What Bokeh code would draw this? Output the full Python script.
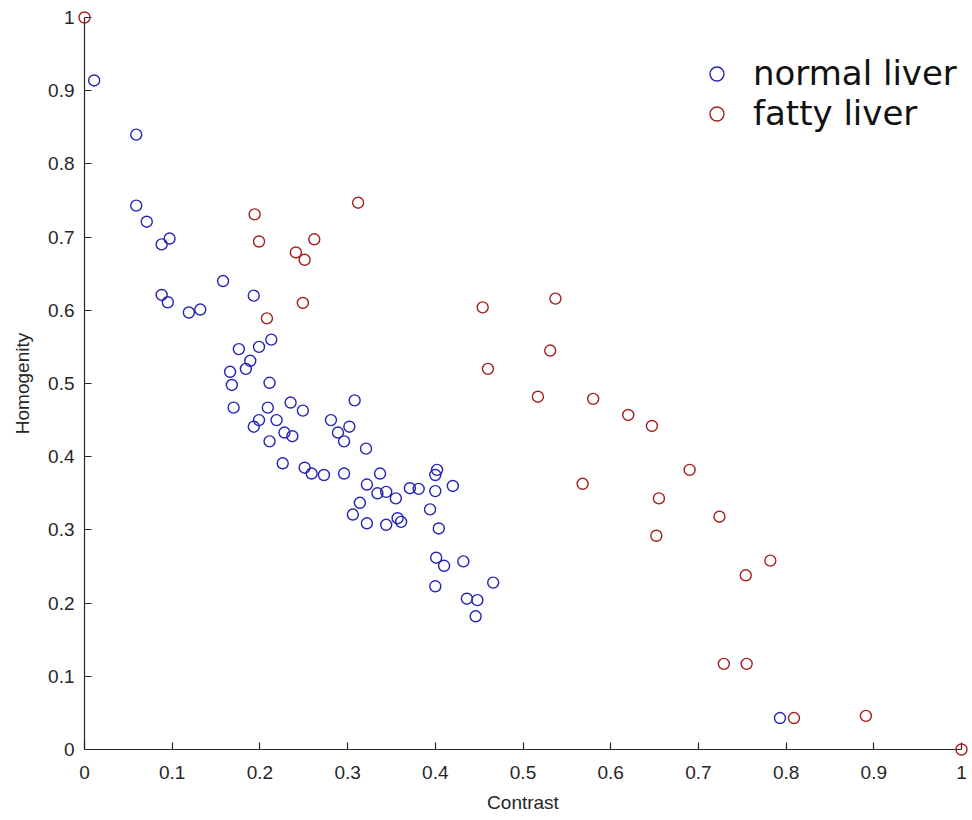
from bokeh.plotting import figure
from bokeh.models import Range1d, FixedTicker, Legend, LegendItem, ColumnDataSource
from bokeh.embed import file_html
from bokeh.resources import INLINE

# ---- data ----
normal_contrast = [0.011, 0.059, 0.059, 0.071, 0.088, 0.097, 0.088, 0.095, 0.119, 0.132,
                   0.158, 0.193, 0.213, 0.199, 0.176, 0.189, 0.184, 0.166, 0.168, 0.211,
                   0.170, 0.209, 0.235, 0.249, 0.193, 0.199, 0.219, 0.228, 0.237, 0.211,
                   0.226, 0.251, 0.259, 0.273, 0.281, 0.308, 0.289, 0.302, 0.296, 0.321,
                   0.296, 0.337, 0.322, 0.334, 0.344, 0.355, 0.314, 0.306, 0.322, 0.344,
                   0.357, 0.361, 0.371, 0.381, 0.394, 0.400, 0.400, 0.402, 0.420, 0.404,
                   0.401, 0.410, 0.432, 0.400, 0.466, 0.436, 0.448, 0.446, 0.793]
normal_homogenity = [0.914, 0.840, 0.743, 0.721, 0.690, 0.698, 0.621, 0.611, 0.597, 0.601,
                     0.640, 0.620, 0.560, 0.550, 0.547, 0.531, 0.520, 0.516, 0.498, 0.501,
                     0.467, 0.467, 0.474, 0.463, 0.441, 0.450, 0.450, 0.433, 0.428, 0.421,
                     0.391, 0.385, 0.377, 0.375, 0.450, 0.477, 0.433, 0.441, 0.421, 0.411,
                     0.377, 0.377, 0.362, 0.350, 0.352, 0.343, 0.337, 0.321, 0.309, 0.307,
                     0.316, 0.311, 0.357, 0.356, 0.328, 0.353, 0.375, 0.382, 0.360, 0.302,
                     0.262, 0.251, 0.257, 0.223, 0.228, 0.206, 0.204, 0.182, 0.043]

fatty_contrast = [0.000, 0.194, 0.199, 0.241, 0.251, 0.262, 0.312, 0.208, 0.249, 0.454,
                  0.537, 0.531, 0.460, 0.517, 0.580, 0.620, 0.647, 0.690, 0.568, 0.655,
                  0.724, 0.652, 0.754, 0.782, 0.729, 0.755, 0.809, 0.891, 1.000]
fatty_homogenity = [1.000, 0.731, 0.694, 0.679, 0.669, 0.697, 0.747, 0.589, 0.610, 0.604,
                    0.616, 0.545, 0.520, 0.482, 0.479, 0.457, 0.442, 0.382, 0.363, 0.343,
                    0.318, 0.292, 0.238, 0.258, 0.117, 0.117, 0.043, 0.046, 0.000]

series_names = ["normal liver", "fatty liver"]
tick_values = [0, 0.1, 0.2, 0.3, 0.4, 0.5, 0.6, 0.7, 0.8, 0.9, 1]
tick_labels = ["0", "0.1", "0.2", "0.3", "0.4", "0.5", "0.6", "0.7", "0.8", "0.9", "1"]

BLUE = "#2424b4"
RED = "#a31f1f"
AXIS = "#262626"
FONT = "Liberation Sans"

p = figure(width=972, height=820, output_backend="svg", toolbar_location=None,
           x_range=Range1d(0, 1), y_range=Range1d(0, 1),
           min_border_left=84, min_border_right=11, min_border_top=17, min_border_bottom=71)
p.outline_line_color = None
p.grid.visible = False
p.background_fill_color = "white"
p.border_fill_color = "white"

src_n = ColumnDataSource(dict(x=normal_contrast, y=normal_homogenity))
src_f = ColumnDataSource(dict(x=fatty_contrast, y=fatty_homogenity))
rn = p.scatter("x", "y", source=src_n, marker="circle", size=11, fill_color=None,
               line_color=BLUE, line_width=1.4)
rf = p.scatter("x", "y", source=src_f, marker="circle", size=11, fill_color=None,
               line_color=RED, line_width=1.4)
rn.level = "overlay"
rf.level = "overlay"

overrides = {v: s for v, s in zip(tick_values, tick_labels)}
for ax in (p.xaxis[0], p.yaxis[0]):
    ax.ticker = FixedTicker(ticks=tick_values)
    ax.major_label_overrides = overrides
    ax.major_tick_in = 7
    ax.major_tick_out = 0
    ax.minor_tick_line_color = None
    ax.axis_line_color = AXIS
    ax.major_tick_line_color = AXIS
    ax.axis_line_width = 1.2
    ax.major_tick_line_width = 1.2
    ax.major_label_text_font = FONT
    ax.major_label_text_font_size = "19px"
    ax.major_label_text_color = AXIS
    ax.axis_label_text_font = FONT
    ax.axis_label_text_font_size = "19px"
    ax.axis_label_text_font_style = "normal"
    ax.axis_label_text_color = AXIS

p.xaxis.axis_label = "Contrast"
p.yaxis.axis_label = "Homogenity"
p.xaxis.major_label_standoff = 16
p.xaxis.axis_label_standoff = 10
p.yaxis.major_label_standoff = 10
p.yaxis.axis_label_standoff = 12

legend = Legend(items=[LegendItem(label=series_names[0], renderers=[rn]),
                       LegendItem(label=series_names[1], renderers=[rf])],
                location=(615, 616), orientation="vertical",
                label_text_font="DejaVu Sans", label_text_font_size="34px",
                label_text_color="#111111", label_standoff=19,
                glyph_width=35, glyph_height=39, spacing=0, padding=0, margin=0,
                border_line_color=None, background_fill_alpha=0)
p.add_layout(legend, "center")

open("out.html", "w").write(file_html(p, INLINE))
